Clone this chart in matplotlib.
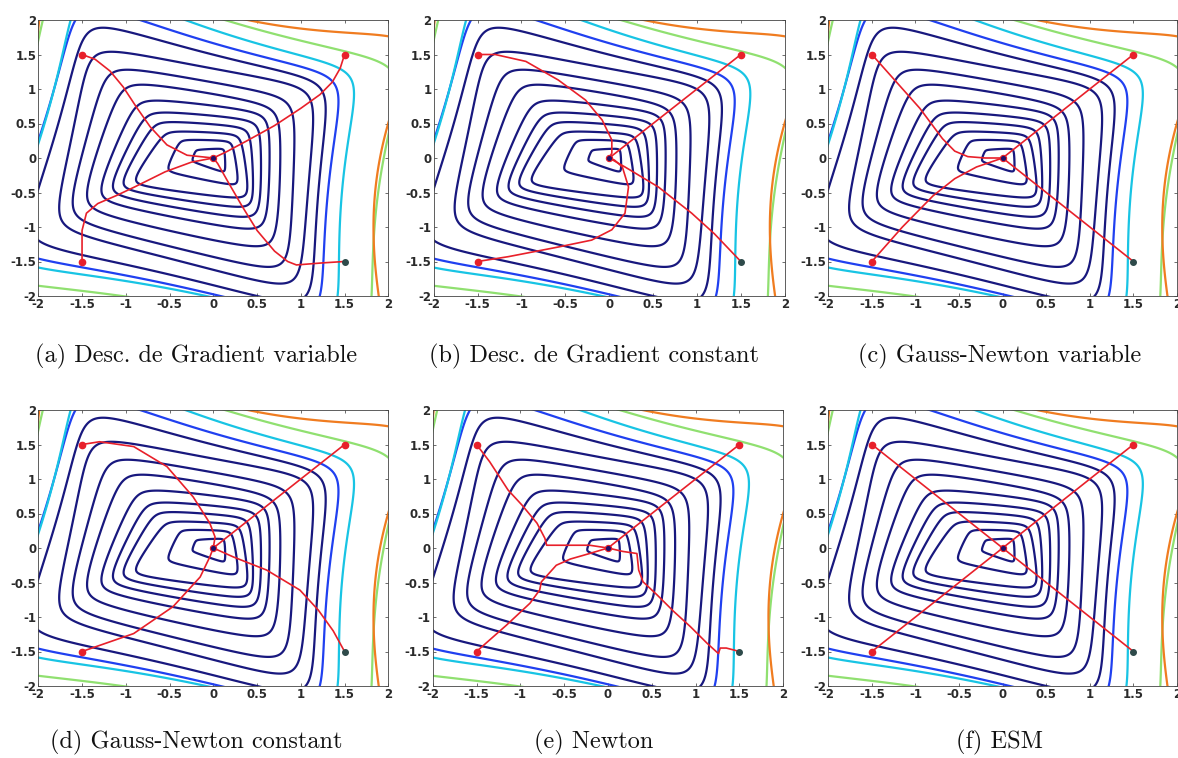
import numpy as np
import matplotlib
matplotlib.use("Agg")
import matplotlib.pyplot as plt

W, H = 1178, 758

# ---------------------------------------------------------------------------
# Level sets of the cost: one rounded quadrilateral per contour level,
# given by its four corners and by how much its sides bow inwards.
# ---------------------------------------------------------------------------
level_id = [0, 1, 2, 3, 4, 5, 6, 7, 8, 9, 10, 11, 12, 13, 14]
tl_x = [0.0, -0.20, -0.38, -0.55, -0.67, -0.77, -0.88, -1.05, -1.24, -1.45, -1.52, -1.62, -1.62, -1.92, -2.08]
tl_y = [0.0, 0.12, 0.27, 0.40, 0.55, 0.70, 0.89, 1.15, 1.40, 1.70, 2.12, 2.45, 2.78, 3.08, 3.40]
tr_x = [0.0, 0.13, 0.22, 0.32, 0.43, 0.55, 0.66, 0.79, 0.98, 1.24, 1.42, 1.60, 1.80, 2.35, 2.60]
tr_y = [0.0, 0.14, 0.25, 0.35, 0.45, 0.55, 0.66, 0.76, 0.90, 1.06, 1.16, 1.25, 1.35, 1.45, 1.95]
br_x = [0.0, 0.14, 0.30, 0.42, 0.47, 0.54, 0.62, 0.73, 0.89, 1.04, 1.20, 1.33, 1.55, 1.95, 2.25]
br_y = [0.0, -0.22, -0.42, -0.62, -0.77, -0.93, -1.12, -1.40, -1.74, -2.02, -2.32, -2.50, -2.62, -2.90, -3.30]
bl_x = [0.0, -0.25, -0.55, -0.96, -1.11, -1.24, -1.38, -1.55, -1.73, -1.90, -2.30, -2.60, -2.65, -3.12, -3.60]
bl_y = [0.0, -0.05, -0.20, -0.39, -0.46, -0.54, -0.63, -0.76, -0.92, -1.06, -1.28, -1.45, -1.62, -1.85, -2.40]
side_bow = [0.0, 0.0, 0.0, 0.0, 0.0, 0.0, 0.0, 0.0, 0.02, 0.04, 0.07, 0.09, 0.11, 0.12, 0.22]
corner_round = 1.7

drawn_levels = [1, 2, 3, 4, 5, 6, 7, 8, 9, 10, 11, 12, 13, 14]
navy = "#18187e"
level_colors = [navy] * 10 + ["#2040f0", "#18c4e4", "#90e070", "#f07c20"]

# ---------------------------------------------------------------------------
# Optimisation paths (x list, y list) from the four starting points
# ---------------------------------------------------------------------------
starts_x = [-1.5, 1.5, -1.5, 1.5]
starts_y = [1.5, 1.5, -1.5, -1.5]

grad_var_tl = ([-1.5, -1.35, -1.18, -1.03, -0.88, -0.72, -0.53, -0.30, 0.0],
               [1.5, 1.43, 1.26, 1.03, 0.74, 0.45, 0.19, 0.04, 0.0])
grad_var_tr = ([1.5, 1.45, 1.36, 1.22, 1.0, 0.7, 0.4, 0.15, 0.0],
               [1.5, 1.3, 1.1, 0.92, 0.72, 0.47, 0.26, 0.09, 0.0])
grad_var_bl = ([-1.5, -1.5, -1.45, -1.32, -1.1, -0.9, -0.55, -0.25, 0.0],
               [-1.5, -1.05, -0.8, -0.66, -0.54, -0.42, -0.2, -0.06, 0.0])
grad_var_br = ([1.5, 1.25, 0.95, 0.85, 0.7, 0.5, 0.33, 0.17, 0.05, 0.0],
               [-1.5, -1.52, -1.55, -1.5, -1.35, -1.05, -0.7, -0.35, -0.08, 0.0])

grad_cst_tl = ([-1.5, -1.3, -0.95, -0.58, -0.27, -0.08, 0.03, 0.03, 0.0],
               [1.5, 1.5, 1.4, 1.13, 0.84, 0.55, 0.26, 0.07, 0.0])
grad_cst_tr = ([1.5, 1.2, 0.9, 0.6, 0.3, 0.0],
               [1.5, 1.2, 0.9, 0.6, 0.3, 0.0])
grad_cst_bl = ([-1.5, -1.15, -0.58, -0.2, 0.03, 0.18, 0.22, 0.15, 0.06, 0.0],
               [-1.5, -1.43, -1.29, -1.19, -1.04, -0.8, -0.42, -0.13, -0.03, 0.0])
grad_cst_br = ([1.5, 1.2, 0.94, 0.56, 0.18, 0.0],
               [-1.5, -1.1, -0.8, -0.42, -0.13, 0.0])

gn_var_tl = ([-1.5, -0.95, -0.69, -0.55, -0.4, -0.2, 0.0],
             [1.5, 0.72, 0.28, 0.1, 0.02, 0.0, 0.0])
gn_var_tr = ([1.5, 0.0], [1.5, 0.0])
gn_var_bl = ([-1.5, -1.15, -0.8, -0.55, -0.3, 0.0],
             [-1.5, -1.0, -0.55, -0.3, -0.13, 0.0])
gn_var_br = ([1.5, 0.0], [-1.5, 0.0])

gn_cst_tl = ([-1.5, -1.3, -0.91, -0.53, -0.23, -0.04, 0.02, 0.0],
             [1.5, 1.54, 1.47, 1.18, 0.74, 0.36, 0.16, 0.0])
gn_cst_tr = ([1.5, 0.0], [1.5, 0.0])
gn_cst_bl = ([-1.5, -0.91, -0.46, -0.15, -0.04, 0.0],
             [-1.5, -1.24, -0.85, -0.42, -0.13, 0.0])
gn_cst_br = ([1.5, 1.37, 1.2, 0.99, 0.61, 0.23, 0.0],
             [-1.5, -1.2, -0.9, -0.61, -0.32, -0.13, 0.0])

newton_tl = ([-1.5, -1.35, -1.14, -0.98, -0.81, -0.72, -0.70, -0.21, 0.0],
             [1.5, 1.25, 0.84, 0.62, 0.36, 0.14, 0.04, 0.04, 0.0])
newton_tr = ([1.5, 0.0], [1.5, 0.0])
newton_bl = ([-1.5, -1.16, -0.89, -0.78, -0.76, -0.59, -0.43, -0.21, 0.0],
             [-1.5, -1.12, -0.8, -0.61, -0.49, -0.25, -0.16, -0.08, 0.0])
newton_br = ([1.5, 1.35, 1.28, 1.26, 1.13, 0.94, 0.75, 0.56, 0.40, 0.35, 0.33, 0.17, 0.0],
             [-1.5, -1.45, -1.45, -1.53, -1.38, -1.14, -0.92, -0.68, -0.49, -0.32, -0.08, -0.05, 0.0])

esm_tl = ([-1.5, 0.0], [1.5, 0.0])
esm_tr = ([1.5, 0.0], [1.5, 0.0])
esm_bl = ([-1.5, 0.0], [-1.5, 0.0])
esm_br = ([1.5, 0.0], [-1.5, 0.0])

captions = ["(a) Desc. de Gradient variable", "(b) Desc. de Gradient constant",
            "(c) Gauss-Newton variable", "(d) Gauss-Newton constant",
            "(e) Newton", "(f) ESM"]
panel_paths = [
    [grad_var_tl, grad_var_tr, grad_var_bl, grad_var_br],
    [grad_cst_tl, grad_cst_tr, grad_cst_bl, grad_cst_br],
    [gn_var_tl, gn_var_tr, gn_var_bl, gn_var_br],
    [gn_cst_tl, gn_cst_tr, gn_cst_bl, gn_cst_br],
    [newton_tl, newton_tr, newton_bl, newton_br],
    [esm_tl, esm_tr, esm_bl, esm_br],
]

tick_values = [-2, -1.5, -1, -0.5, 0, 0.5, 1, 1.5, 2]
tick_labels = ["-2", "-1.5", "-1", "-0.5", "0", "0.5", "1", "1.5", "2"]


def level_grid():
    """Curvilinear grid (X, Y) carrying the continuous level index K."""
    k = np.linspace(0.0, 14.5, 581)
    w = np.linspace(0.0, 2 * np.pi, 1441)
    K, Wg = np.meshgrid(k, w, indexing="ij")
    kk = np.minimum(K, level_id[-1])

    def node(xs, ys):
        return np.interp(kk, level_id, xs), np.interp(kk, level_id, ys)

    tl = node(tl_x, tl_y)
    tr = node(tr_x, tr_y)
    br = node(br_x, br_y)
    bl = node(bl_x, bl_y)
    bow = np.interp(kk, level_id, side_bow)
    # rounded square in reference coordinates (corners near (+-1, +-1))
    t = np.tanh(corner_round)
    u = np.tanh(corner_round * np.cos(Wg)) / t
    v = np.tanh(corner_round * np.sin(Wg)) / t
    n_tl = (1 - u) * (1 + v) * (-u + v - 1) / 4
    n_tr = (1 + u) * (1 + v) * (u + v - 1) / 4
    n_br = (1 + u) * (1 - v) * (u - v - 1) / 4
    n_bl = (1 - u) * (1 - v) * (-u - v - 1) / 4
    n_mt = (1 - u ** 2) * (1 + v) / 2
    n_mb = (1 - u ** 2) * (1 - v) / 2
    n_mr = (1 + u) * (1 - v ** 2) / 2
    n_ml = (1 - u) * (1 - v ** 2) / 2
    out = []
    for c in range(2):
        ctr = (tl[c] + tr[c] + br[c] + bl[c]) / 4.0

        def mid(a, b):
            m = (a[c] + b[c]) / 2.0
            return m + bow * (ctr - m)

        mt, mr, mb, ml = mid(tl, tr), mid(tr, br), mid(br, bl), mid(bl, tl)
        out.append(n_tl * tl[c] + n_tr * tr[c] + n_br * br[c] + n_bl * bl[c]
                   + n_mt * mt + n_mb * mb + n_mr * mr + n_ml * ml)
    return out[0], out[1], K


GX, GY, GK = level_grid()

# panel frames in pixels: (left, top, right, bottom)
panel_px = [
    (38.3, 20, 388.3, 296), (433.7, 20, 784.7, 296), (828.3, 20, 1177.0, 296),
    (38.3, 410, 388.3, 686), (432.7, 410, 783.3, 686), (828.3, 410, 1177.0, 686),
]
caption_xy = [(196, 356), (594, 356), (1000, 356), (196, 742), (594, 742), (1000, 742)]

fig = plt.figure(figsize=(W / 100, H / 100), dpi=100)
for i, (l, t, r, b) in enumerate(panel_px):
    ax = fig.add_axes([l / W, 1 - b / H, (r - l) / W, (b - t) / H])
    ax.contour(GX, GY, GK, levels=drawn_levels, colors=level_colors,
               linewidths=1.6, linestyles="solid")
    for px, py in panel_paths[i]:
        ax.plot(px, py, color="#e8202a", lw=1.2, zorder=5)
    ax.plot(starts_x[:3], starts_y[:3], "o", ms=4.5, color="#e8202a", zorder=6)
    ax.plot(starts_x[3], starts_y[3], "o", ms=4, color="#2e4a4a", zorder=6)
    ax.plot([0], [0], "o", ms=4.5, mfc="#20106a", mec="#e8202a", mew=0.8, zorder=7)
    ax.set_xlim(-2, 2)
    ax.set_ylim(-2, 2)
    ax.set_xticks(tick_values)
    ax.set_yticks(tick_values)
    ax.set_xticklabels(tick_labels)
    ax.set_yticklabels(tick_labels)
    ax.tick_params(direction="in", length=2.5, width=0.5, top=True, right=True,
                   labelsize=8.5, pad=1.5, colors="#333333")
    for lab in ax.get_xticklabels() + ax.get_yticklabels():
        lab.set_fontweight("bold")
        lab.set_color("#2a2a2a")
    for sp in ax.spines.values():
        sp.set_linewidth(0.6)
        sp.set_color("#444444")
    cx, cy = caption_xy[i]
    fig.text(cx / W, 1 - cy / H, captions[i], family="cmr10", fontsize=17.5,
             ha="center", va="center", color="#111111")

fig.savefig("out.png", dpi=100)
